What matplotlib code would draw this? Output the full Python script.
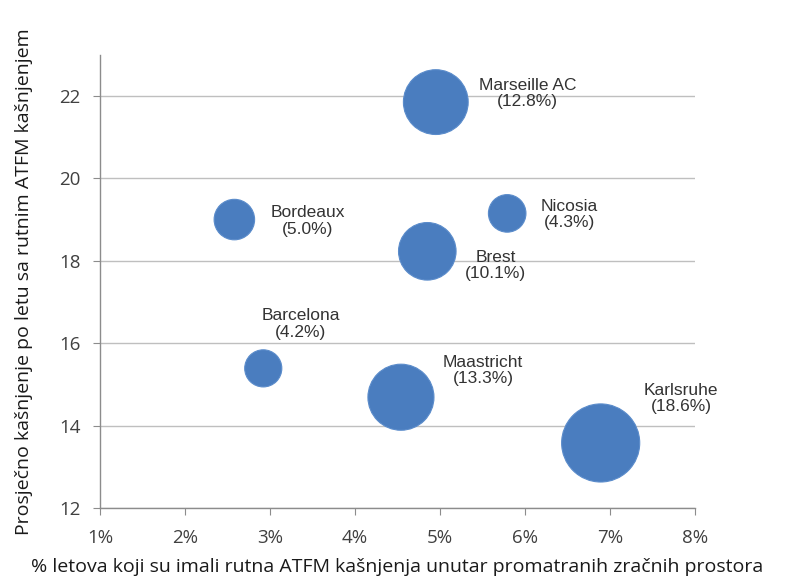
import matplotlib.pyplot as plt
from matplotlib.ticker import FuncFormatter

# podaci
centri = ["Marseille AC", "Nicosia", "Brest", "Bordeaux", "Barcelona", "Maastricht", "Karlsruhe"]
udio_letova = [4.95, 5.79, 4.85, 2.58, 2.92, 4.54, 6.89]
prosj_kasnjenje = [21.85, 19.15, 18.23, 19.0, 15.39, 14.69, 13.58]
udio_kasnjenja = [12.8, 4.3, 10.1, 5.0, 4.2, 13.3, 18.6]

# pomaci oznaka (u tockama)
pomaci = [(66, 6), (45, -1), (49, -10), (53, -1), (27, 32), (59, 19), (58, 32)]


def main():
    fig = plt.figure(figsize=(7.88, 5.82), dpi=100)
    ax = fig.add_axes([0.127, 0.127, 0.755, 0.779])

    ax.scatter(udio_letova, prosj_kasnjenje, s=[v * 170 for v in udio_kasnjenja],
               color="#4a7dbf", edgecolor="#5b8ccb", linewidth=0.8, zorder=3)

    for ime, x, y, v, (dx, dy) in zip(centri, udio_letova, prosj_kasnjenje, udio_kasnjenja, pomaci):
        ax.annotate(f"{ime}\n({v:.1f}%)", (x, y), xytext=(dx, dy), textcoords="offset points",
                    ha="center", va="center", fontsize=12.5, color="#333333",
                    family="Liberation Sans", linespacing=1.1, zorder=4)

    ax.set_xlim(1, 8)
    ax.set_ylim(12, 23)
    ax.set_xticks(range(1, 9))
    ax.set_yticks(range(12, 23, 2))
    ax.xaxis.set_major_formatter(FuncFormatter(lambda x, p: f"{int(x)}%"))

    ax.grid(axis="y", color="#bfbfbf", linewidth=1.0, zorder=0)
    for s in ["top", "right"]:
        ax.spines[s].set_visible(False)
    for s in ["left", "bottom"]:
        ax.spines[s].set_color("#8c8c8c")
        ax.spines[s].set_linewidth(1.0)
    ax.tick_params(colors="#8c8c8c", length=5, labelcolor="#404040", labelsize=13.5)
    ax.tick_params(axis="y", pad=9)
    ax.tick_params(axis="x", pad=10)
    for lab in ax.get_xticklabels() + ax.get_yticklabels():
        lab.set_family("Open Sans")

    ax.set_xlabel("% letova koji su imali rutna ATFM kašnjenja unutar promatranih zračnih prostora",
                  fontsize=14, family="Open Sans", color="#1a1a1a", labelpad=8)
    ax.set_ylabel("Prosječno kašnjenje po letu sa rutnim ATFM kašnjenjem",
                  fontsize=14, family="Open Sans", color="#1a1a1a", labelpad=19)

    fig.savefig("out.png", dpi=100)


if __name__ == "__main__":
    main()
